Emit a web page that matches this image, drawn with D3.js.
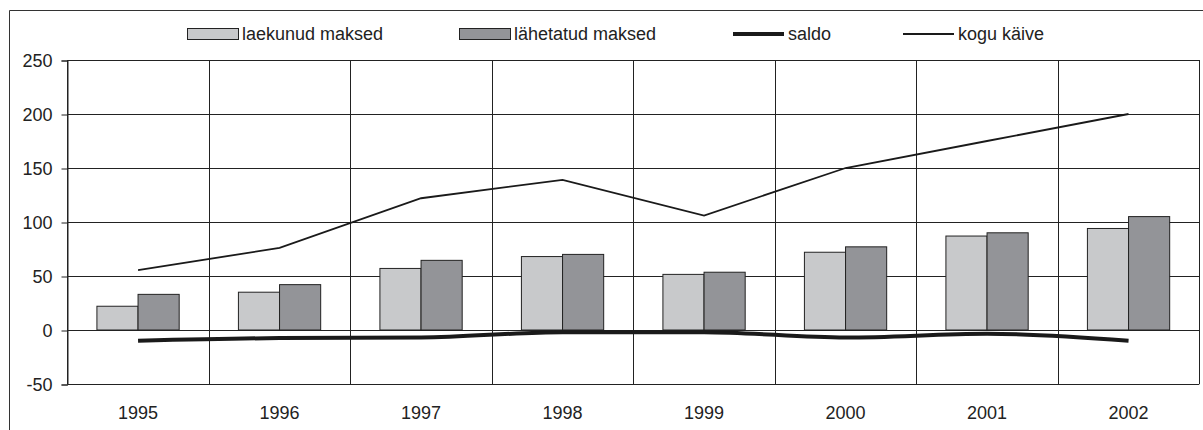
<!DOCTYPE html>
<html>
<head>
<meta charset="utf-8">
<script src="https://cdn.jsdelivr.net/npm/d3@7"></script>
<style>
  body { margin: 0; background: #fff; }
  svg { display: block; font-family: "Liberation Sans", Arial, sans-serif; }
  .axis text { font-size: 18px; fill: #222; }
  .legend text { font-size: 18px; fill: #222; }
</style>
</head>
<body>
<div id="chart"></div>
<script>
var years = ["1995", "1996", "1997", "1998", "1999", "2000", "2001", "2002"];
var laekunud = [22, 35, 57, 68, 51.5, 72, 87, 94];
var lahetatud = [33, 42, 64.5, 70, 53.5, 77, 90, 105];
var saldo = [-10, -7.5, -7, -2, -2, -7, -3.5, -10];
var koguKaive = [55.5, 76, 122, 139, 106, 150, 175, 200];
var yTicks = [-50, 0, 50, 100, 150, 200, 250];
var seriesNames = ["laekunud maksed", "lähetatud maksed", "saldo", "kogu käive"];

var svgWidth = 1203, svgHeight = 430;
var svg = d3.select("#chart").append("svg")
	.attr("width", svgWidth)
	.attr("height", svgHeight);

var plot = {left: 67.3, right: 1199.3, top: 60, bottom: 384};

// outer frame
svg.append("path")
	.attr("d", "M9.5,430 V10.5 H1210")
	.attr("fill", "none")
	.attr("stroke", "#333")
	.attr("stroke-width", 1);

var xScale = d3.scaleBand()
	.domain(years)
	.range([plot.left, plot.right]);

var xInner = d3.scaleBand()
	.domain(["a", "b"])
	.range([0, xScale.bandwidth()])
	.paddingInner(0)
	.paddingOuter(0.72);

var yScale = d3.scaleLinear()
	.domain([-50, 250])
	.range([plot.bottom, plot.top]);

// horizontal gridlines
svg.append("g")
	.attr("class", "grid")
	.selectAll("line")
	.data(yTicks)
	.enter().append("line")
	.attr("x1", plot.left)
	.attr("x2", plot.right)
	.attr("y1", function(d) { return Math.round(yScale(d)) + 0.5; })
	.attr("y2", function(d) { return Math.round(yScale(d)) + 0.5; })
	.attr("stroke", "#222");

// vertical gridlines at category boundaries
var bounds = years.map(function(y) { return xScale(y); }).concat([plot.right]);
svg.append("g")
	.selectAll("line")
	.data(bounds)
	.enter().append("line")
	.attr("x1", function(d) { return Math.round(d) + 0.5; })
	.attr("x2", function(d) { return Math.round(d) + 0.5; })
	.attr("y1", plot.top)
	.attr("y2", plot.bottom)
	.attr("stroke", "#222");

// y axis
var yAxis = svg.append("g")
	.attr("class", "axis")
	.attr("transform", "translate(" + (Math.round(plot.left) + 0.5) + ",0.5)")
	.call(d3.axisLeft(yScale).tickValues(yTicks).tickSize(6).tickPadding(9)
		.tickFormat(function(d) { return String(d); }));
yAxis.select(".domain").attr("stroke", "#222");
yAxis.selectAll(".tick line").attr("stroke", "#222");
yAxis.selectAll(".tick text").attr("dy", "0.36em");

// x axis labels
var xAxis = svg.append("g")
	.attr("class", "axis")
	.attr("transform", "translate(0," + plot.bottom + ")")
	.call(d3.axisBottom(xScale).tickSize(0).tickPadding(22));
xAxis.select(".domain").remove();

// bars
var gBar = svg.selectAll(".gBar")
	.data(years)
	.enter().append("g")
	.attr("class", "gBar")
	.attr("transform", function(d) { return "translate(" + xScale(d) + ",0)"; });

gBar.append("rect")
	.attr("x", xInner("a"))
	.attr("width", xInner.bandwidth())
	.attr("y", function(d, i) { return yScale(laekunud[i]); })
	.attr("height", function(d, i) { return yScale(0) - yScale(laekunud[i]); })
	.attr("fill", "#c8c9cb")
	.attr("stroke", "#222")
	.attr("stroke-width", 1);

gBar.append("rect")
	.attr("x", xInner("b"))
	.attr("width", xInner.bandwidth())
	.attr("y", function(d, i) { return yScale(lahetatud[i]); })
	.attr("height", function(d, i) { return yScale(0) - yScale(lahetatud[i]); })
	.attr("fill", "#939498")
	.attr("stroke", "#222")
	.attr("stroke-width", 1);

var cx = function(d, i) { return xScale(years[i]) + xScale.bandwidth() / 2; };

var kogu = d3.line()
	.x(cx)
	.y(function(d) { return yScale(d); });

var smooth = d3.line()
	.curve(d3.curveMonotoneX)
	.x(cx)
	.y(function(d) { return yScale(d); });

svg.append("path")
	.attr("d", smooth(saldo))
	.attr("fill", "none")
	.attr("stroke", "#1a1a1a")
	.attr("stroke-width", 4);

svg.append("path")
	.attr("d", kogu(koguKaive))
	.attr("fill", "none")
	.attr("stroke", "#1a1a1a")
	.attr("stroke-width", 1.8);

// legend
var legendX = [187, 459, 733, 903];
var legend = svg.selectAll(".legend")
	.data(seriesNames)
	.enter().append("g")
	.attr("class", "legend")
	.attr("transform", function(d, i) { return "translate(" + legendX[i] + ",34)"; });

legend.each(function(d, i) {
	var g = d3.select(this);
	if (i < 2) {
		g.append("rect")
			.attr("x", 0.5)
			.attr("y", -5.5)
			.attr("width", 51)
			.attr("height", 11)
			.attr("fill", i === 0 ? "#c8c9cb" : "#939498")
			.attr("stroke", "#222");
	} else {
		g.append("line")
			.attr("x1", 0)
			.attr("x2", 51)
			.attr("y1", 0)
			.attr("y2", 0)
			.attr("stroke", "#1a1a1a")
			.attr("stroke-width", i === 2 ? 4 : 1.8);
	}
	g.append("text")
		.attr("x", 55)
		.attr("dy", "0.36em")
		.text(d);
});
</script>
</body>
</html>
